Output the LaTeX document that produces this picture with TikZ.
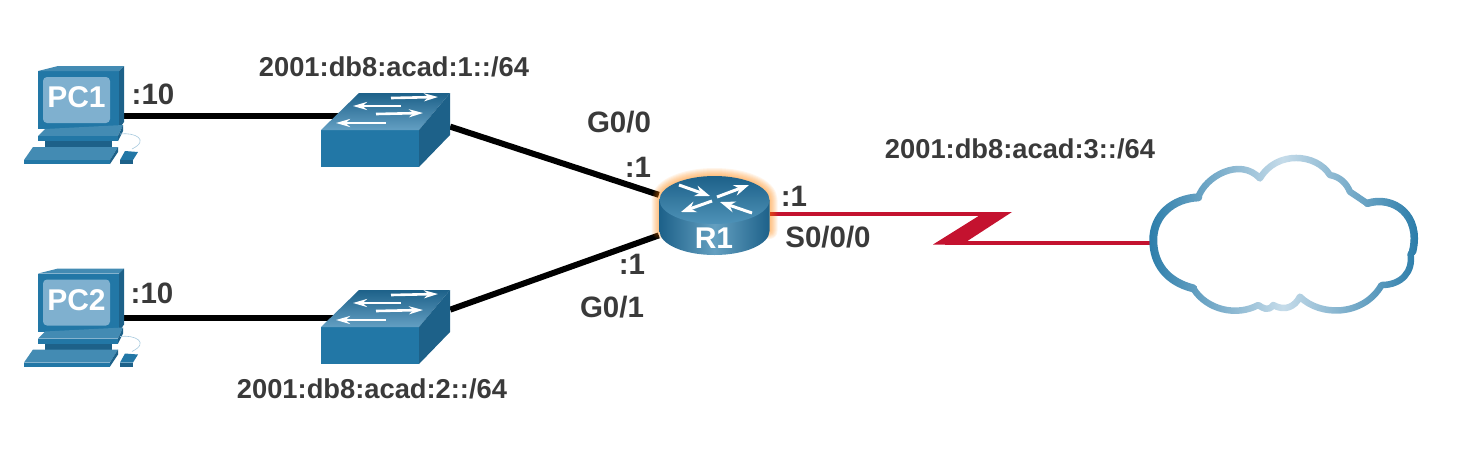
\documentclass[tikz,border=0pt]{standalone}
\usepackage{fontspec}
\setmainfont{Liberation Sans}
\usetikzlibrary{arrows.meta,fadings}
\definecolor{labelgray}{HTML}{3A3A3A}
\definecolor{ciscoblue}{HTML}{2277A6}
\definecolor{ciscodark}{HTML}{1D6189}
\definecolor{ciscolight}{HTML}{7FB0CF}
\definecolor{serialred}{HTML}{C4122F}
\tikzset{
  hitbox/.style={inner sep=0pt,minimum width=#1},
  addr/.style={font=\fontsize{27.3}{27.3}\bfseries,text=labelgray,inner sep=0pt},
  port/.style={font=\fontsize{29.5}{29.5}\bfseries,text=labelgray,inner sep=0pt},
  iconname/.style={font=\fontsize{30}{30}\bfseries,text=white,inner sep=0pt},
  ethernet/.style={line width=6pt,black},
  serial/.style={line width=4pt,serialred},
  flow/.style={white,line width=2.6pt,-{Stealth[length=14pt,width=8pt]}},
  flowbig/.style={white,line width=3pt,-{Stealth[length=15pt,width=11pt]}},
  pcicon/.pic={
    \fill[ciscoblue] (38,71) rectangle (119,129);
    \fill[ciscoblue!85!white] (38,71) -- (58,66) -- (124,66) -- (119,71) -- cycle;
    \fill[ciscodark] (119,71) -- (124,66) -- (124,122) -- (119,129) -- cycle;
    \fill[ciscolight,rounded corners=4pt] (43,77) rectangle (110,123);
    \fill[ciscoblue!85!white] (38,136) -- (45,129) -- (123,125) -- (118,136) -- cycle;
    \fill[ciscoblue] (38,136) rectangle (118,141);
    \fill[ciscodark] (118,136) -- (123,125) -- (123,131) -- (118,141) -- cycle;
    \fill[ciscodark] (45,141) rectangle (112,147);
    \fill[ciscoblue!85!white] (24,160) -- (33,147) -- (118,147) -- (110,160) -- cycle;
    \fill[ciscoblue] (24,160) rectangle (110,164);
    \fill[ciscodark] (110,160) -- (118,147) -- (118,152) -- (110,164) -- cycle;
    \fill[ciscoblue] (120,160) -- (125,151) -- (138,152) -- (133,160) -- cycle;
    \fill[ciscodark] (120,160) rectangle (133,164);
    \draw[ciscolight!70!white,line width=.6pt] (120,134) .. controls (135,132) and (150,140) .. (132,149);
  },
  swicon/.pic={
    \fill[ciscoblue] (321,130) rectangle (419,167);
    \shade[top color=ciscodark,bottom color=ciscolight!70!ciscoblue] (321,130) -- (359,93) -- (450,93) -- (419,130) -- cycle;
    \fill[ciscodark] (419,130) -- (450,93) -- (450,135) -- (419,167) -- cycle;
    \draw[flow] (391,98) -- (438,97);
    \draw[flow] (401,106) -- (353,106);
    \draw[flow] (376,114) -- (423,113);
    \draw[flow] (386,123) -- (336,123);
  }
}
% outline of the cloud, read off in thirds of a pixel
\newcommand{\cloudleft}{%
  (190,445) .. controls (110,425) and (70,370) .. (70,300)
  .. controls (70,225) and (130,175) .. (205,172)}
\newcommand{\cloudline}{%
  (70,300) .. controls (70,225) and (130,175) .. (205,172)
  .. controls (225,110) and (330,50) .. (390,115)
  .. controls (440,30) and (560,40) .. (600,105)
  .. controls (630,110) and (650,130) .. (660,155)
  -- (712,190)
  .. controls (790,165) and (875,225) .. (848,335)
  -- (842,342)
  .. controls (850,395) and (815,435) .. (755,435)
  .. controls (700,530) and (570,530) .. (510,470)
  .. controls (495,500) and (465,515) .. (430,495)
  .. controls (415,515) and (400,505) .. (385,495)
  .. controls (320,530) and (230,510) .. (190,445)
  .. controls (110,425) and (70,370) .. (70,300)}
\begin{tikzfadingfrompicture}[name=cloudstroke]
  \path (-150,-100) rectangle (150,100);
  \begin{scope}[x=0.3333pt,y=-0.3333pt,shift={(-460,-300)}]
    \draw[transparent!0,line width=6.5pt,line join=round] \cloudline -- cycle;
    \draw[transparent!0,line width=8pt,line cap=round] \cloudleft;
    \draw[transparent!0,line width=7.5pt,line cap=round]
      (712,190) .. controls (790,165) and (875,225) .. (848,335);
  \end{scope}
\end{tikzfadingfrompicture}
\begin{document}
\begin{tikzpicture}[x=1pt,y=-1pt]
  \useasboundingbox (0,0) rectangle (1460,472);
  \node[hitbox=100pt,minimum height=100pt] (PC1) at (74,116) {};
  \node[hitbox=100pt,minimum height=100pt] (PC2) at (74,318) {};
  \node[hitbox=129pt,minimum height=74pt] (SW1) at (385.5,130) {};
  \node[hitbox=129pt,minimum height=74pt] (SW2) at (385.5,327) {};
  \node[hitbox=111pt,minimum height=82pt] (R1) at (714.5,214) {};
  \node[hitbox=270pt,minimum height=170pt] (cloud) at (1285,242.5) {};
  \coordinate (zigtop) at (1000,214);
  \coordinate (zigbot) at (945,242.5);

  \draw[ethernet] (PC1.east) -- (PC1.east -| SW1);
  \draw[ethernet] (PC2.east) -- (PC2.east -| SW2);
  \draw[ethernet] (SW1.3) -- (R1.161);
  \draw[ethernet] (SW2.15) -- (R1.201);
  \draw[serial] (R1.east) -- (zigtop);
  \fill[serialred] (1012,212) -- (985,212) -- (933,244.5) -- (962,244.5) -- cycle;
  \draw[serial] (zigbot) -- (cloud.west);

  \pic at (0,0) {pcicon};
  \pic at (0,202.5) {pcicon};
  \pic at (0,0) {swicon};
  \pic at (0,197) {swicon};

  % router with its glow
  \foreach \g in {16,14,...,1}
    \draw[orange,opacity=.08,line width=\g pt,line join=round]
      (659.5,200) arc[start angle=180,end angle=0,x radius=55,y radius=-24]
      -- (769.5,231) arc[start angle=0,end angle=180,x radius=55,y radius=-24] -- cycle;
  \shade[left color=ciscodark,right color=ciscodark,middle color=ciscoblue!70!white]
    (659.5,200) -- (659.5,231) arc[start angle=180,end angle=0,x radius=55,y radius=24]
    -- (769.5,200) -- cycle;
  \shade[top color=ciscodark,bottom color=ciscoblue!80!white]
    (714.5,200) ellipse[x radius=55,y radius=24];
  \draw[flowbig] (679,185) -- (710,196);
  \draw[flowbig] (717,197) -- (749,185);
  \draw[flowbig] (712,201) -- (681,212);
  \draw[flowbig] (752,213) -- (720,202);

  % cloud
  \shade[path fading=cloudstroke,fit fading=false,fading transform={shift={(1283.3,240)}},
    left color=ciscoblue,right color=ciscoblue,middle color=ciscolight!45!white]
    (1140,130) rectangle (1426,330);

  \node[iconname] (PC1name) at (76.5,97) {PC1};
  \node[iconname] (PC2name) at (76.5,300) {PC2};
  \node[iconname] (R1name) at (714,238) {R1};

  \node[addr] (net1) at (394,67) {2001:db8:acad:1::/64};
  \node[addr] (net2) at (372,389) {2001:db8:acad:2::/64};
  \node[addr] (net3) at (1020,149) {2001:db8:acad:3::/64};
  \node[port] (pc1host) at (153,94) {:10};
  \node[port] (pc2host) at (152,293) {:10};
  \node[port] (g00) at (619,122) {G0/0};
  \node[port] (g00host) at (638,167) {:1};
  \node[port] (g01host) at (632,264) {:1};
  \node[port] (g01) at (612,307) {G0/1};
  \node[port] (s000host) at (794,196) {:1};
  \node[port] (s000) at (828,237) {S0/0/0};
\end{tikzpicture}
\end{document}
